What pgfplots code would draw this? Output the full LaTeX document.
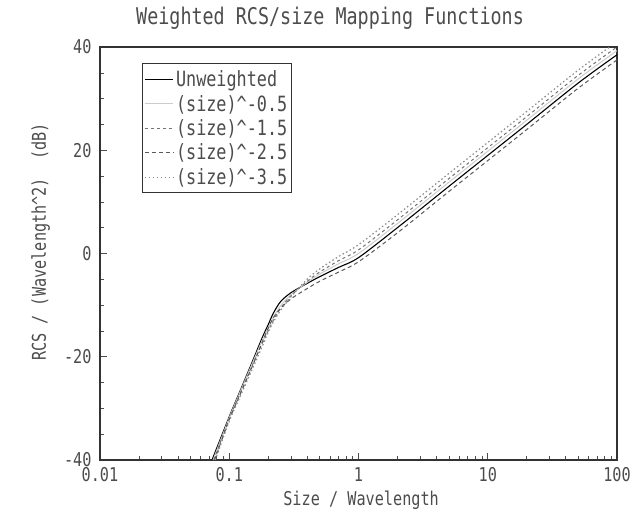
\documentclass[border=0pt]{standalone}
\usepackage{fontspec}
\setmainfont[FakeStretch=0.8]{DejaVu Sans Mono}
\usepackage{pgfplots}
\pgfplotsset{compat=1.18}
\definecolor{txt}{gray}{0.3}
\begin{document}
\begin{tikzpicture}[x=1pt,y=1pt]
\path[use as bounding box] (0,0) rectangle (639,531);
\begin{axis}[
  at={(100pt,71pt)}, anchor=south west,
  scale only axis, width=517pt, height=413pt,
  xmode=log, xmin=0.01, xmax=100, ymin=-40, ymax=40,
  xtick={0.01,0.1,1,10,100}, xticklabels={0.01,0.1,1,10,100},
  ytick={-40,-20,0,20,40}, minor ytick={-35,-30,-25,-15,-10,-5,5,10,15,25,30,35},
  tick align=inside, xtick pos=bottom, ytick pos=left,
  major tick length=7pt, minor tick length=4pt,
  every tick/.style={black!70, line width=0.6pt},
  axis line style={black!80, line width=1.1pt},
  /pgf/number format/assume math mode=true,
  tick label style={font=\fontsize{19}{19}\selectfont, text=txt},
  xticklabel style={yshift=-4pt},
  yticklabel style={xshift=-5pt},
  title={Weighted RCS/size Mapping Functions},
  title style={font=\fontsize{23}{23}\selectfont, text=txt, anchor=base, at={(axis description cs:0.445,1)}, yshift=17pt},
  xlabel={Size / Wavelength},
  ylabel={RCS / (Wavelength\textasciicircum 2)\ \ (dB)},
  label style={font=\fontsize{19}{19}\selectfont, text=txt},
  xlabel style={anchor=base, at={(axis description cs:0.505,0)}, yshift=-45pt},
  ylabel style={anchor=center, at={(axis description cs:-0.115,0.528)}},
  legend style={at={(axis description cs:0.081,0.961)}, anchor=north west,
    font=\fontsize{21}{21}\selectfont, text=txt, draw=black!80, line width=1pt,
    inner xsep=2pt, inner ysep=5pt, row sep=3pt, cells={anchor=west}},
  legend image code/.code={\draw[#1] (0cm,0cm) -- (1.0cm,0cm);},
  legend cell align=left,
]
\addplot[black, line width=1.1pt, smooth] coordinates {
(0.0736,-40) (0.1,-31.6) (0.12,-26.9) (0.15,-21.1) (0.18,-16.3) (0.2,-13.8) (0.22,-11.5) (0.25,-9.3) (0.3,-7.6) (0.4,-5.8) (0.5,-4.5) (0.7,-2.7) (1,-0.8) (2,5.0) (5,13.0) (10,19.0) (20,25.0) (50,33.0) (100,38.5)};
\addlegendentry{Unweighted}
\addplot[black!20, line width=1pt, smooth] coordinates {
(0.075,-40) (0.1,-31.8) (0.12,-27.1) (0.15,-21.4) (0.18,-16.8) (0.2,-14.4) (0.22,-12.3) (0.25,-10.1) (0.3,-8.0) (0.4,-5.6) (0.5,-4.0) (0.7,-2.0) (1,0.0) (2,5.8) (5,13.8) (10,19.8) (20,25.8) (50,33.8) (100,39.3)};
\addlegendentry{(size)\textasciicircum-0.5}
\addplot[black!55, line width=1pt, dash pattern=on 3pt off 3pt, smooth] coordinates {
(0.076,-40) (0.1,-32.0) (0.12,-27.4) (0.15,-21.8) (0.18,-17.4) (0.2,-15.0) (0.22,-12.9) (0.25,-10.6) (0.3,-8.2) (0.4,-5.4) (0.5,-3.6) (0.7,-1.4) (1,0.7) (2,6.5) (5,14.5) (10,20.5) (20,26.5) (50,34.5) (100,40.0)};
\addlegendentry{(size)\textasciicircum-1.5}
\addplot[black!65, line width=1pt, dash pattern=on 4pt off 3pt, smooth] coordinates {
(0.077,-40) (0.1,-32.2) (0.12,-27.6) (0.15,-22.0) (0.18,-17.2) (0.2,-14.5) (0.22,-12.4) (0.25,-10.6) (0.3,-8.8) (0.4,-6.8) (0.5,-5.4) (0.7,-3.6) (1,-1.6) (2,4.0) (5,12.0) (10,18.0) (20,24.0) (50,32.0) (100,37.5)};
\addlegendentry{(size)\textasciicircum-2.5}
\addplot[black!45, line width=1.2pt, dash pattern=on 1.5pt off 2.5pt, smooth] coordinates {
(0.078,-40) (0.1,-32.5) (0.12,-28.0) (0.15,-22.5) (0.18,-18.0) (0.2,-15.2) (0.22,-13.2) (0.25,-11.0) (0.3,-8.4) (0.4,-5.0) (0.5,-3.0) (0.7,-0.6) (1,1.7) (2,7.5) (5,15.5) (10,21.5) (20,27.5) (50,35.5) (100,41.0)};
\addlegendentry{(size)\textasciicircum-3.5}
\end{axis}
\end{tikzpicture}
\end{document}
